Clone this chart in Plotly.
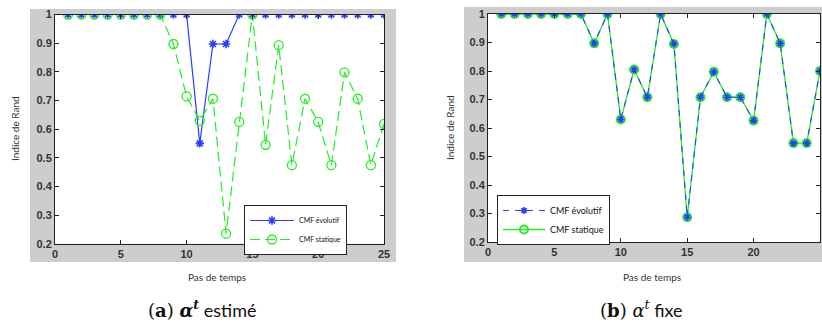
import plotly.graph_objects as go

W, H = 822, 327

steps = list(range(1, 26))
# (a) alpha^t estimé
a_evolutif = [1, 1, 1, 1, 1, 1, 1, 1, 1, 1, 0.55, 0.897, 0.897, 1, 1,
              1, 1, 1, 1, 1, 1, 1, 1, 1, 1]
a_statique = [1, 1, 1, 1, 1, 1, 1, 1, 0.897, 0.714, 0.629, 0.706, 0.235, 0.625, 1,
              0.545, 0.893, 0.474, 0.706, 0.625, 0.474, 0.798, 0.706, 0.474, 0.618]
# (b) alpha^t fixe
b_evolutif = [1, 1, 1, 1, 1, 1, 1, 0.897, 1, 0.63, 0.805, 0.708, 1, 0.895, 0.287,
              0.708, 0.797, 0.708, 0.708, 0.626, 1, 0.897, 0.547, 0.547, 0.8]
b_statique = list(b_evolutif)

x_ticks = [0, 5, 10, 15, 20, 25]
y_ticks = [0.2, 0.3, 0.4, 0.5, 0.6, 0.7, 0.8, 0.9, 1]
names = ["CMF évolutif", "CMF statique"]
y_title = "Indice de Rand"
x_title = "Pas de temps"

BLUE = "#2a3cff"
GREEN = "#22ee22"

def px(x):
    return x / W

def py(y):
    return 1 - y / H

fig = go.Figure()

# Left panel traces
fig.add_trace(go.Scatter(x=steps, y=a_evolutif, name=names[0], mode="lines+markers",
                         line=dict(color=BLUE, width=1.2),
                         marker=dict(symbol="asterisk-open", size=7, color=BLUE, line=dict(color=BLUE, width=1.6)),
                         xaxis="x", yaxis="y", legend="legend", legendrank=1))
fig.add_trace(go.Scatter(x=steps, y=a_statique, name=names[1], mode="lines+markers",
                         line=dict(color=GREEN, width=1.2, dash="10px,5px"),
                         marker=dict(symbol="circle-open", size=9, color=GREEN, line=dict(color=GREEN, width=1.3)),
                         xaxis="x", yaxis="y", legend="legend", legendrank=2))
# Right panel traces
fig.add_trace(go.Scatter(x=steps, y=b_statique, name=names[1], mode="lines+markers",
                         line=dict(color=GREEN, width=1.3),
                         marker=dict(symbol="circle-open", size=8, color=GREEN, line=dict(color=GREEN, width=2)),
                         xaxis="x2", yaxis="y2", legend="legend2", legendrank=2))
fig.add_trace(go.Scatter(x=steps, y=b_evolutif, name=names[0], mode="lines+markers",
                         line=dict(color=BLUE, width=1.1, dash="6px,6px"),
                         marker=dict(symbol="asterisk-open", size=6, color=BLUE, line=dict(color=BLUE, width=1.6)),
                         xaxis="x2", yaxis="y2", legend="legend2", legendrank=1))

tickfont = dict(family="Liberation Sans, Arial", size=11, color="#333", weight="bold")
ax_common = dict(showgrid=False, zeroline=False, showline=True, linecolor="#222", linewidth=1,
                 mirror="ticks", ticks="inside", ticklen=4, tickcolor="#222", tickfont=tickfont,
                 automargin=False)

fig.update_layout(
    width=W, height=H, margin=dict(l=0, r=0, t=0, b=0, pad=0, autoexpand=False),
    paper_bgcolor="white", plot_bgcolor="white",
    xaxis=dict(domain=[px(55), px(384)], range=[0, 25], tickvals=x_ticks, anchor="y", **ax_common),
    yaxis=dict(domain=[py(243.7), py(14.5)], range=[0.2, 1], tickvals=y_ticks,
               ticktext=[("1" if v == 1 else f"{v:.1f}") for v in y_ticks], anchor="x", **ax_common),
    xaxis2=dict(domain=[px(488), px(820)], range=[0, 25], tickvals=x_ticks, anchor="y2", **ax_common),
    yaxis2=dict(domain=[py(242), py(14)], range=[0.2, 1], tickvals=y_ticks,
                ticktext=[("1" if v == 1 else f"{v:.1f}") for v in y_ticks], anchor="x2", **ax_common),
    legend=dict(x=px(244), y=py(205), xanchor="left", yanchor="top", bgcolor="white",
                bordercolor="#222", borderwidth=1, itemwidth=44, tracegroupgap=0,
                font=dict(family="Lato, Liberation Sans", size=7, color="#111")),
    legend2=dict(x=px(497), y=py(195), xanchor="left", yanchor="top", bgcolor="white",
                 bordercolor="#222", borderwidth=1, itemwidth=42, tracegroupgap=0,
                 font=dict(family="Lato, Liberation Sans", size=9, color="#111")),
    showlegend=True,
)

# Gray figure backgrounds (MATLAB figure color)
shapes = [
    dict(type="rect", xref="paper", yref="paper", x0=px(30), x1=px(396), y0=py(262), y1=py(9),
         fillcolor="#cdcdcd", line=dict(width=0), layer="below"),
    dict(type="rect", xref="paper", yref="paper", x0=px(464), x1=1, y0=py(262), y1=py(7),
         fillcolor="#cdcdcd", line=dict(width=0), layer="below"),
    dict(type="rect", xref="paper", yref="paper", x0=px(55), x1=px(384), y0=py(243.7), y1=py(14.5),
         fillcolor="white", line=dict(width=0), layer="below"),
    dict(type="rect", xref="paper", yref="paper", x0=px(488), x1=px(820), y0=py(242), y1=py(14),
         fillcolor="white", line=dict(width=0), layer="below"),
]
fig.update_layout(shapes=shapes)

lab_font = dict(family="Lato, Open Sans", size=10, color="#333")
cap_font = dict(family="Lato, Open Sans", size=18, color="#111")
serif = "font-family:DejaVu Serif"
center = dict(xref="paper", yref="paper", xanchor="center", yanchor="middle", showarrow=False)
annotations = [
    dict(text=y_title, x=px(15), y=py(129), textangle=-90, font=lab_font, **center),
    dict(text=y_title, x=px(450), y=py(128), textangle=-90, font=lab_font, **center),
    dict(text=x_title, x=px(217), y=py(277), font=lab_font, **center),
    dict(text=x_title, x=px(652), y=py(277), font=lab_font, **center),
    dict(text=f"<span style='{serif}'>(<b>a</b>) <b><i>α</i></b><sup><b><i>t</i></b></sup></span> estimé",
         x=px(202), y=py(309), font=cap_font, **center),
    dict(text=f"<span style='{serif}'>(<b>b</b>) <i>α</i><sup><i>t</i></sup></span> fixe",
         x=px(641), y=py(309), font=cap_font, **center),
]
fig.update_layout(annotations=annotations)

fig.write_html("out.html", config={"displayModeBar": False},
               post_script="document.body.style.margin='0';document.body.style.overflow='hidden';")
